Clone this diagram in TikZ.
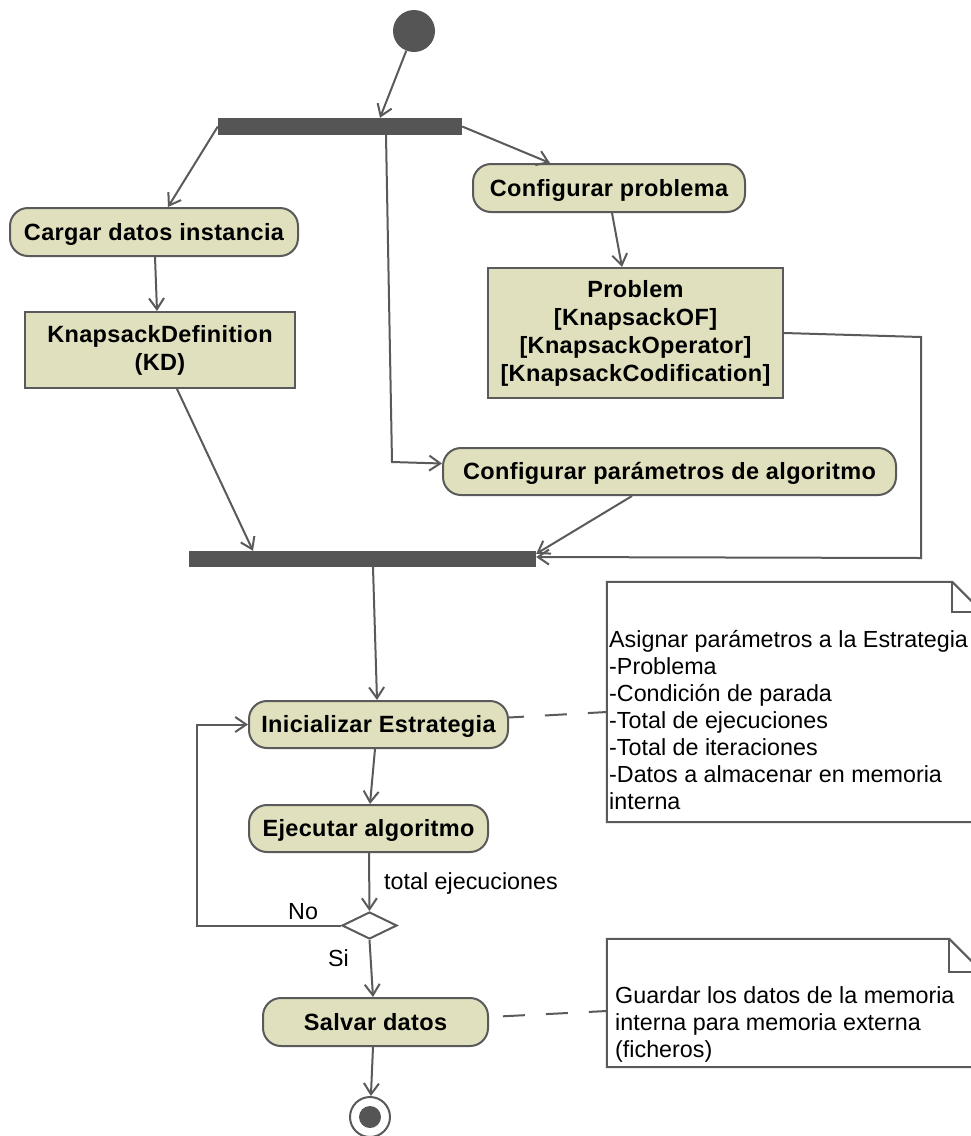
\documentclass[tikz,border=0pt]{standalone}
\usepackage{fontspec}
\setmainfont{Liberation Sans}
\newfontfamily\spacedsans{Liberation Sans}[LetterSpace=1.5]
\usetikzlibrary{arrows.meta,shapes.geometric,calc}
\definecolor{actfill}{RGB}{224,224,190}
\definecolor{lineg}{RGB}{90,90,90}
\definecolor{barg}{RGB}{85,85,85}
\newcommand{\bfnt}{\spacedsans\fontsize{23.5}{28}\selectfont\bfseries}
\newcommand{\rgnt}{\fontsize{23.3}{27}\selectfont}
\begin{document}
\begin{tikzpicture}[x=1pt,y=-1pt,
  act/.style={draw=lineg, fill=actfill, rounded corners=18pt, line width=2pt, font=\bfnt, inner sep=0pt, text height=20pt, text depth=3.2pt},
  obj/.style={draw=lineg, fill=actfill, line width=2pt, font=\bfnt, align=center, inner sep=0pt},
  forkbar/.style={fill=barg, draw=none, inner sep=0pt},
  startdot/.style={circle, fill=barg, minimum size=42pt, inner sep=0pt},
  decision/.style={diamond, draw=lineg, fill=white, line width=2pt, minimum width=55pt, minimum height=27pt, inner sep=0pt},
  flow/.style={draw=lineg, line width=2pt, -{Straight Barb[length=11pt,width=15pt]}},
  notelink/.style={draw=lineg, line width=2pt, dash pattern=on 22pt off 21pt},
  notebox/.style={draw=none, inner sep=0pt},
  noteline/.style={draw=lineg, line width=2pt, fill=white},
  txt/.style={font=\rgnt, inner sep=0pt, anchor=base west}
]
\clip (0,0) rectangle (971,1136);
\fill[white] (0,0) rectangle (971,1136);

% nodes
\node[startdot] (start) at (414,31) {};
\node[forkbar, minimum width=244pt, minimum height=17pt] (bar1) at (340,126.5) {};
\node[act, minimum width=288pt, minimum height=48pt] (cargar) at (154,232) {Cargar datos instancia};
\node[obj, minimum width=270pt, minimum height=76pt] (kd) at (160,350) {KnapsackDefinition\\(KD)};
\node[act, minimum width=272pt, minimum height=48pt] (confprob) at (609,188) {Configurar problema};
\node[obj, minimum width=295pt, minimum height=130pt] (problem) at (635.5,333) {Problem\\{[KnapsackOF]}\\{[KnapsackOperator]}\\{[KnapsackCodification]}};
\node[act, minimum width=453pt, minimum height=47pt] (confpar) at (669.5,471.5) {Configurar parámetros de algoritmo};
\node[forkbar, minimum width=347pt, minimum height=16pt] (bar2) at (362.5,559) {};
\node[act, minimum width=259pt, minimum height=47pt] (init) at (378.5,724.5) {Inicializar Estrategia};
\node[act, minimum width=239pt, minimum height=47pt] (ejec) at (368.5,828.5) {Ejecutar algoritmo};
\node[decision] (dec) at (369.5,925.5) {};
\node[act, minimum width=225pt, minimum height=48pt] (salvar) at (375.5,1022) {Salvar datos};
\node[circle, draw=lineg, line width=2pt, fill=white, minimum size=40pt, inner sep=0pt] (end) at (370,1117) {};
\node[circle, fill=barg, minimum size=22pt, inner sep=0pt] (enddot) at (end.center) {};

% notes
\node[notebox, minimum width=375pt, minimum height=240pt] (note1) at (794.5,702) {};
\draw[noteline] (note1.north west) -- ([xshift=-30pt]note1.north east) -- ([yshift=-30pt]note1.north east) -- (note1.south east) -- (note1.south west) -- cycle;
\draw[noteline, fill=none] ([xshift=-30pt]note1.north east) -- ++(0,30) -- ([yshift=-30pt]note1.north east);
\node[txt] (n1a) at (609,647) {Asignar parámetros a la Estrategia};
\node[txt] (n1b) at (609,674) {-Problema};
\node[txt] (n1c) at (609,701) {-Condición de parada};
\node[txt] (n1d) at (609,728) {-Total de ejecuciones};
\node[txt] (n1e) at (609,755) {-Total de iteraciones};
\node[txt] (n1f) at (609,782.5) {-Datos a almacenar en memoria};
\node[txt] (n1g) at (609,809.6) {interna};

\node[notebox, minimum width=375pt, minimum height=128pt] (note2) at (794.5,1003) {};
\draw[noteline] (note2.north west) -- ([xshift=-33pt]note2.north east) -- ([yshift=-33pt]note2.north east) -- (note2.south east) -- (note2.south west) -- cycle;
\draw[noteline, fill=none] ([xshift=-33pt]note2.north east) -- ++(0,33) -- ([yshift=-33pt]note2.north east);
\node[txt] (n2a) at (615,1003) {Guardar los datos de la memoria};
\node[txt] (n2b) at (615,1030) {interna para memoria externa};
\node[txt] (n2c) at (615,1057) {(ficheros)};

% labels
\node[txt] (lbltot) at (384,889) {total ejecuciones};
\node[txt] (lblno) at (288,919) {No};
\node[txt] (lblsi) at (328,966) {Si};

% connectors
\coordinate (c1) at (392,462);
\coordinate (c2) at (921,337);
\coordinate (c3) at (921,558);
\draw[flow] (start) -- ([xshift=40pt]bar1.north);
\draw[flow] (bar1.west) -- ([xshift=14pt]cargar.north);
\draw[flow] ([xshift=1pt]cargar.south) -- ([xshift=-3pt]kd.north);
\draw[flow] ([xshift=17pt]kd.south) -- ([xshift=-109.5pt]bar2.north);
\draw[flow] ([xshift=46pt]bar1.south) -- (c1) -- ([yshift=8pt]confpar.west);
\draw[flow] (bar1.east) -- ([xshift=-59pt]confprob.north);
\draw[flow] ([xshift=3pt]confprob.south) -- ([xshift=-13.5pt]problem.north);
\draw[flow] (problem.east) -- (c2) -- (c3) -- ([yshift=2pt]bar2.east);
\draw[flow] ([xshift=-37.5pt]confpar.south) -- ([yshift=-3pt]bar2.north east);
\draw[flow] ([xshift=10.5pt]bar2.south) -- ([xshift=-1.5pt]init.north);
\draw[flow] ([xshift=-3.5pt]init.south) -- ([xshift=1.5pt]ejec.north);
\draw[flow] ([xshift=0.5pt]ejec.south) -- (dec.north);
\draw[flow] (dec.west) -- ++(-144,0) |- (init.west);
\draw[flow] (dec.south) -- ([xshift=-2.5pt]salvar.north);
\draw[flow] ([xshift=-2.5pt]salvar.south) -- (end);
\draw[notelink, dash phase=7pt] ([yshift=7pt]init.east) -- ([yshift=-10pt]note1.west);
\draw[notelink, dash phase=29pt] ([yshift=5pt]salvar.east) -- ([yshift=-8pt]note2.west);
\end{tikzpicture}
\end{document}
